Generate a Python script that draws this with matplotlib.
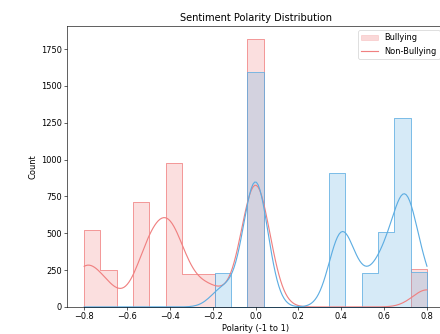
import numpy as np
import pandas as pd
import seaborn as sns
import matplotlib.pyplot as plt
from matplotlib.patches import Patch
from matplotlib.lines import Line2D

# Polarity values and how often each shows up
bully_vals = [-0.8, -0.7, -0.5, -0.4, -0.3, -0.2, 0.0, 0.8]
bully_counts = [524, 252, 715, 978, 225, 225, 1815, 255]

nonbully_vals = [-0.15, 0.0, 0.4, 0.5, 0.6, 0.7, 0.8]
nonbully_counts = [233, 1595, 910, 230, 510, 1280, 240]

colors = {1: '#F08080', 0: '#5DADE2'}

# Rebuild the raw polarity column
df = pd.DataFrame({
    'polarity': np.concatenate([np.repeat(bully_vals, bully_counts),
                                np.repeat(nonbully_vals, nonbully_counts)]),
    'label': [1] * sum(bully_counts) + [0] * sum(nonbully_counts),
})

plt.rcParams['font.size'] = 10.8

fig = plt.figure(figsize=(441 / 55, 334 / 55), dpi=55)
ax = fig.add_axes([0.152, 0.081, 0.855, 0.841])

sns.histplot(data=df, x='polarity', hue='label', bins=21, binrange=(-0.8, 0.8),
             element='step', kde=True, palette=colors, legend=False, ax=ax)

ax.set_title('Sentiment Polarity Distribution')
ax.set_xlabel('Polarity (-1 to 1)')
ax.set_ylabel('Count')
ax.set_xticks(np.arange(-0.8, 0.81, 0.2))

handles = [Patch(facecolor=colors[1], edgecolor=colors[1], alpha=0.3),
           Line2D([], [], color=colors[1], lw=1.5)]
ax.legend(handles, ['Bullying', 'Non-Bullying'], loc='upper right')

fig.savefig('out.png', dpi=55)
